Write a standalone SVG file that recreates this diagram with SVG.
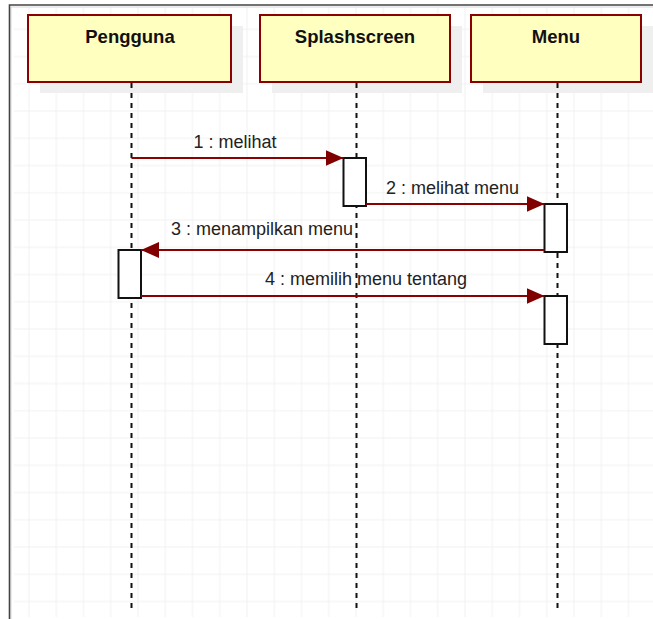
<svg xmlns="http://www.w3.org/2000/svg" width="653" height="619" viewBox="0 0 653 619">
<defs>
<pattern id="grid" patternUnits="userSpaceOnUse" x="15.375" y="15.675" width="27.25" height="27.25">
<path d="M13.625 0 V27.25 M0 13.625 H27.25" stroke="#f1f1f1" stroke-width="1" fill="none"/>
</pattern>
<marker id="arr" viewBox="0 0 18 16" refX="18" refY="8" markerWidth="18" markerHeight="16" markerUnits="userSpaceOnUse" orient="auto">
<path d="M0 0 L18 8 L0 16 Z" fill="#800000"/>
</marker>
<style>
.head{fill:#ffffc0;stroke:#8b0000;stroke-width:2}
.shadow{fill:#efefef}
.title{font-family:"Liberation Sans",Arial,sans-serif;font-weight:bold;font-size:18.5px;fill:#111;text-anchor:middle}
.life{stroke:#111;stroke-width:2;stroke-dasharray:5 5;fill:none}
.act{fill:#ffffff;stroke:#111;stroke-width:2}
.msg{stroke:#8b0000;stroke-width:2;fill:none;marker-end:url(#arr)}
.lbl{font-family:"Liberation Sans",Arial,sans-serif;font-size:18px;fill:#222;text-anchor:middle}
</style>
</defs>
<rect x="0" y="0" width="653" height="619" fill="#ffffff"/>
<rect x="14" y="7" width="639" height="610" fill="url(#grid)"/>
<path d="M11 619 V7 H653" stroke="#d8d8d8" stroke-width="1" fill="none"/>
<path d="M9.5 619 V5 H653" stroke="#444444" stroke-width="1.6" fill="none"/>

<g id="pengguna">
<rect class="shadow" x="40" y="26" width="203" height="67"/>
<rect class="head" x="28" y="15" width="203" height="67"/>
<text class="title" x="130" y="43">Pengguna</text>
<line class="life" x1="131.5" y1="83" x2="131.5" y2="610"/>
<rect class="act" x="118.5" y="250" width="22.5" height="48"/>
</g>

<g id="splashscreen">
<rect class="shadow" x="272" y="26" width="190" height="67"/>
<rect class="head" x="260" y="15" width="190" height="67"/>
<text class="title" x="355" y="43">Splashscreen</text>
<line class="life" x1="356.5" y1="83" x2="356.5" y2="610"/>
<rect class="act" x="343.5" y="158" width="22.5" height="48"/>
</g>

<g id="menu">
<rect class="shadow" x="483" y="26" width="170" height="67"/>
<rect class="head" x="471" y="15" width="170" height="67"/>
<text class="title" x="556" y="43">Menu</text>
<line class="life" x1="557.5" y1="83" x2="557.5" y2="610"/>
<rect class="act" x="544.5" y="204" width="22.5" height="48"/>
<rect class="act" x="544.5" y="296" width="22.5" height="48"/>
</g>

<g id="connectors">
<line class="msg" x1="131.5" y1="158" x2="343.5" y2="158"/>
<text class="lbl" x="235" y="148">1 : melihat</text>
<line class="msg" x1="366" y1="204" x2="544.5" y2="204"/>
<text class="lbl" x="452.5" y="194">2 : melihat menu</text>
<line class="msg" x1="544.5" y1="250" x2="141" y2="250"/>
<text class="lbl" x="262" y="235">3 : menampilkan menu</text>
<line class="msg" x1="141" y1="296" x2="544.5" y2="296"/>
<text class="lbl" x="366" y="285">4 : memilih menu tentang</text>
</g>
</svg>
